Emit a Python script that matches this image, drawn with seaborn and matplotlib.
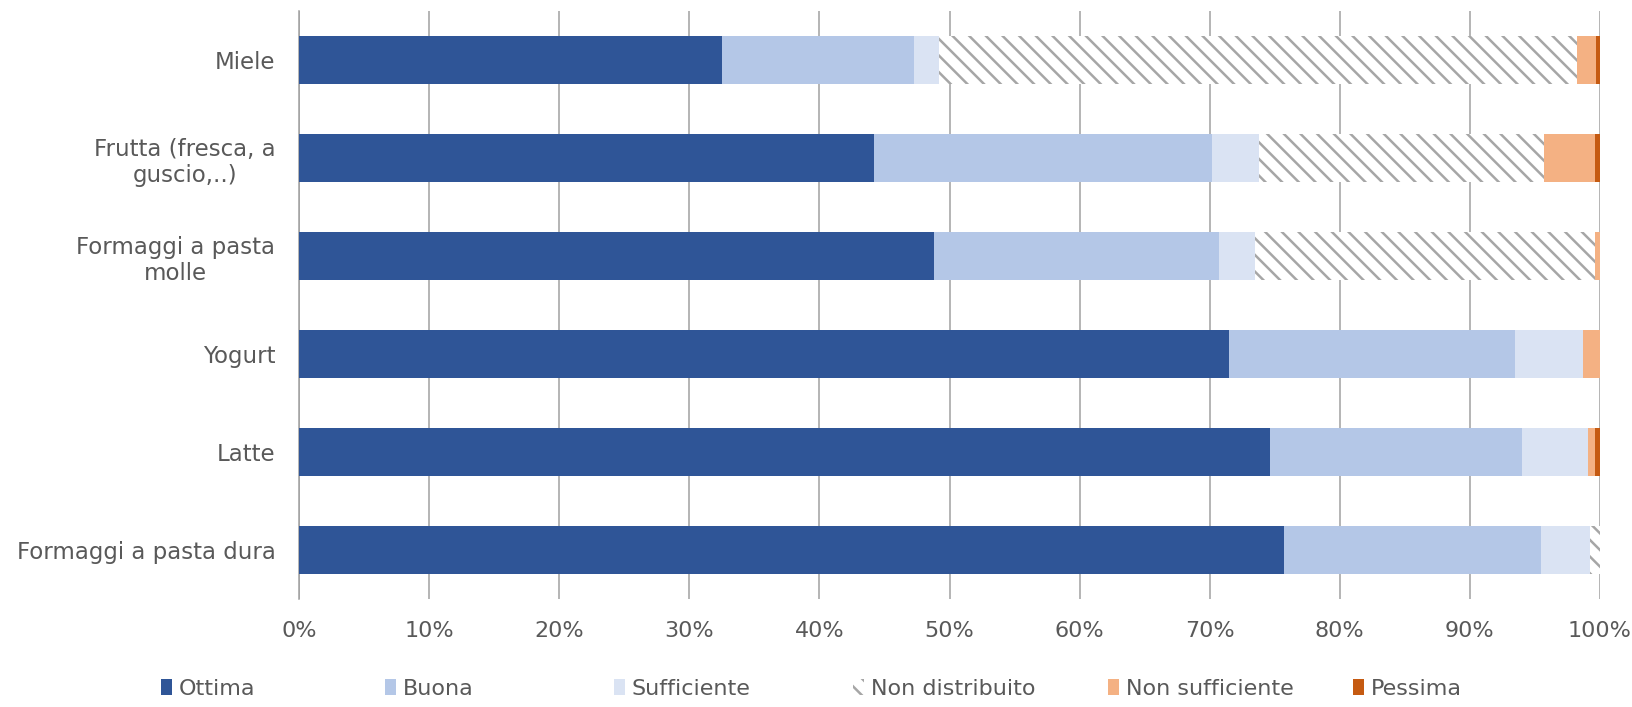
import numpy as np
import pandas as pd
import matplotlib
matplotlib.use("Agg")
import matplotlib.pyplot as plt
from matplotlib.patches import Patch
from matplotlib.ticker import FuncFormatter
import seaborn as sns

# Share of ratings per product (percent of responses)
categories = [
    "Miele",
    "Frutta (fresca, a\nguscio,..)",
    "Formaggi a pasta\nmolle",
    "Yogurt",
    "Latte",
    "Formaggi a pasta dura",
]
ottima = [32.5, 44.2, 48.8, 71.5, 74.6, 75.7]
buona = [14.8, 26.0, 21.9, 22.0, 19.4, 19.8]
sufficiente = [1.9, 3.6, 2.8, 5.2, 5.1, 3.7]
non_distribuito = [49.0, 21.9, 26.1, 0.0, 0.0, 0.8]
non_sufficiente = [1.5, 3.9, 0.4, 1.3, 0.5, 0.0]
pessima = [0.3, 0.4, 0.0, 0.0, 0.4, 0.0]

series_names = ["Ottima", "Buona", "Sufficiente", "Non distribuito",
                "Non sufficiente", "Pessima"]
x_ticks = [0, 10, 20, 30, 40, 50, 60, 70, 80, 90, 100]

colors = ["#2F5597", "#B4C7E7", "#DAE3F3", "#FFFFFF", "#F4B183", "#C55A11"]
hatches = [None, None, None, "\\\\", None, None]
hatch_color = "#A6A6A6"
text_color = "#595959"
line_color = "#A0A0A0"

sns.set_style("white")
plt.rcParams["font.family"] = ["DejaVu Sans"]
plt.rcParams["hatch.linewidth"] = 1.8

df = pd.DataFrame(
    {name: vals for name, vals in zip(
        series_names,
        [ottima, buona, sufficiente, non_distribuito, non_sufficiente, pessima])},
    index=categories,
)
cum = df.cumsum(axis=1)

W, H = 1632, 707
fig = plt.figure(figsize=(W / 100, H / 100), dpi=100)
ax = fig.add_axes([299 / W, 1 - 599 / H, (1600 - 299) / W, (599 - 11) / H])
ax.set_axisbelow(True)

# Stacked bars: draw cumulative totals from the right-most segment inwards
for i in range(len(series_names) - 1, -1, -1):
    name = series_names[i]
    n_before = len(ax.patches)
    sns.barplot(x=cum[name].values, y=categories, orient="h",
                color=colors[i], saturation=1, width=0.49,
                errorbar=None, ax=ax)
    for bar in list(ax.patches)[n_before:]:
        bar.set_fill(True)
        bar.set_alpha(1.0)
        bar.set_facecolor(colors[i])
        bar.set_linewidth(0)
        bar.set_zorder(3 + (len(series_names) - i) * 0.01)
        if hatches[i]:
            bar.set_hatch(hatches[i])
            bar.set_edgecolor(hatch_color)
        else:
            bar.set_edgecolor(colors[i])

ax.set_xlim(0, 100)
ax.set_ylim(len(categories) - 0.5, -0.5)
ax.set_xlabel("")
ax.set_ylabel("")

# x axis: percentage ticks and vertical gridlines under the bars
ax.set_xticks(x_ticks)
ax.xaxis.set_major_formatter(FuncFormatter(lambda v, p: f"{v:.0f}%"))
ax.grid(axis="x", color=line_color, linewidth=1.1)
ax.grid(axis="y", visible=False)
ax.tick_params(axis="x", length=8, width=1.1, color=line_color,
               labelsize=16, labelcolor=text_color, pad=8)

# y axis: tick marks between categories, labels at category centres
pos = np.arange(len(categories))
ax.set_yticks(np.arange(-0.5, len(categories)), labels=[""] * (len(categories) + 1))
ax.set_yticks(pos, minor=True)
ax.set_yticklabels(categories, minor=True, multialignment="center")
ax.tick_params(axis="y", which="major", length=6, width=1.1, color=line_color)
ax.tick_params(axis="y", which="minor", length=0, pad=17,
               labelsize=16.5, labelcolor=text_color)

for side in ["top", "right", "bottom"]:
    ax.spines[side].set_visible(False)
ax.spines["left"].set_color(line_color)
ax.spines["left"].set_linewidth(1.1)

# Legend below the plot, one evenly spaced entry per series
legend_x = [161, 385, 614, 853, 1108, 1353]
for i, name in enumerate(series_names):
    if hatches[i]:
        h = Patch(facecolor="white", edgecolor=hatch_color,
                  hatch=hatches[i], linewidth=0, label=name)
    else:
        h = Patch(facecolor=colors[i], edgecolor=colors[i],
                  linewidth=0, label=name)
    fig.legend(handles=[h], loc="center left",
               bbox_to_anchor=(legend_x[i] / W, 1 - 689 / H),
               frameon=False, fontsize=16, handlelength=0.5,
               handleheight=0.75, handletextpad=0.3, borderpad=0,
               borderaxespad=0, labelcolor=text_color)

fig.savefig("out.png", dpi=100)
